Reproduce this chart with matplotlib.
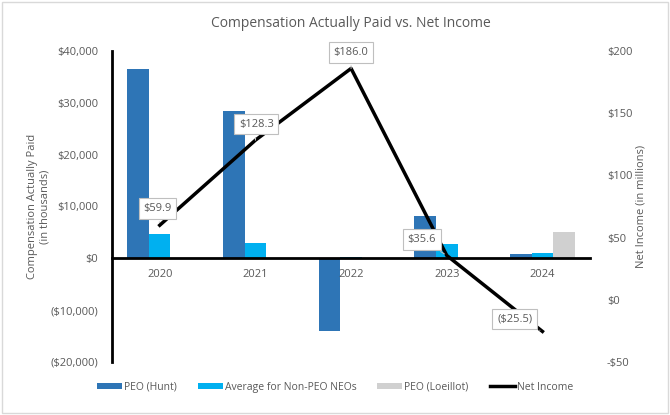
import matplotlib.pyplot as plt
import numpy as np
from matplotlib.ticker import FuncFormatter

plt.rcParams['font.family'] = ['Open Sans', 'DejaVu Sans']

years = ['2020', '2021', '2022', '2023', '2024']
peo_hunt = [36500, 28500, -14100, 8100, 800]
avg_neo = [4700, 2900, 300, 2700, 1000]
peo_loeillot = [0, 0, 0, 0, 5000]
net_income = [59.9, 128.3, 186.0, 35.6, -25.5]
ni_labels = ['$59.9', '$128.3', '$186.0', '$35.6', '($25.5)']

grey = '#595959'

fig = plt.figure(figsize=(6.7, 4.15), dpi=100)
ax = fig.add_axes([0.167, 0.128, 0.714, 0.749])
ax2 = ax.twinx()

x = np.arange(len(years))
w = 0.225
ax.bar(x - w, peo_hunt, w, color='#2E75B6', label='PEO (Hunt)')
ax.bar(x, avg_neo, w, color='#00B0F0', label='Average for Non-PEO NEOs')
ax.bar(x + w, peo_loeillot, w, color='#D0D0D0', label='PEO (Loeillot)')
ax.set_xlim(-0.5, 4.5)
ax.set_ylim(-20000, 40000)
ax.set_yticks(range(-20000, 40001, 10000))

def money_k(v, pos):
    if v < 0:
        return '(${:,.0f})'.format(-v)
    return '${:,.0f}'.format(v)

ax.yaxis.set_major_formatter(FuncFormatter(money_k))
ax.set_xticks(x)
ax.set_xticklabels(years)

for s in ['top', 'right']:
    ax.spines[s].set_visible(False)
ax.spines['left'].set_linewidth(2)
ax.spines['bottom'].set_position(('data', 0))
ax.spines['bottom'].set_linewidth(2)
ax.tick_params(axis='both', length=0, colors=grey, labelsize=8)
ax.tick_params(axis='x', pad=8)
ax.tick_params(axis='y', pad=10)
ax.set_ylabel('Compensation Actually Paid\n(in thousands)', color=grey, fontsize=8, labelpad=0)

ax2.plot(x, net_income, color='black', lw=2.5, label='Net Income')
ax2.set_ylim(-50, 200)
ax2.set_yticks(range(-50, 201, 50))
ax2.yaxis.set_major_formatter(FuncFormatter(lambda v, p: '-${:.0f}'.format(-v) if v < 0 else '${:.0f}'.format(v)))
for s in ax2.spines.values():
    s.set_visible(False)
ax2.tick_params(axis='y', length=0, colors=grey, labelsize=8, pad=12)
ax2.set_ylabel('Net Income (in millions)', color=grey, fontsize=8, labelpad=2)

offsets = [(-1.5, 12), (0.7, 11.5), (0, 11.5), (-18, 11.5), (-20, 9)]
for xi, yi, lab, off in zip(x, net_income, ni_labels, offsets):
    ax2.annotate(lab, (xi, yi), xytext=off, textcoords='offset points',
                 ha='center', va='center', fontsize=8, color=grey,
                 bbox=dict(boxstyle='square,pad=0.42', fc='white', ec='#BFBFBF', lw=0.8),
                 arrowprops=dict(arrowstyle='-', color='#BFBFBF', lw=0.8))

ax.set_title('Compensation Actually Paid vs. Net Income', color=grey, fontsize=10, pad=17)

h1, l1 = ax.get_legend_handles_labels()
h2, l2 = ax2.get_legend_handles_labels()
fig.legend(h1 + h2, l1 + l2, loc='center', bbox_to_anchor=(0.5, 0.067), ncol=4,
           frameon=False, fontsize=7.5, labelcolor=grey, handlelength=2.4,
           handleheight=0.6, columnspacing=2.0, handletextpad=0.2)

fig.patches.append(plt.Rectangle((0.003, 0.005), 0.994, 0.99, transform=fig.transFigure,
                                 fill=False, ec='#D9D9D9', lw=1))

fig.savefig('out.png', dpi=100)
